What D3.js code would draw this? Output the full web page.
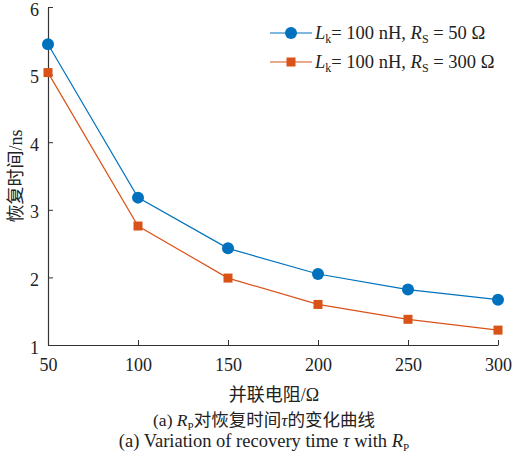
<!DOCTYPE html>
<html><head><meta charset="utf-8">
<script src="https://cdn.jsdelivr.net/npm/d3@7"></script>
<style>body{margin:0;background:#fff}</style>
</head><body><svg id="c" width="517" height="460"></svg>
<script>
const xValues = [50, 100, 150, 200, 250, 300];
const seriesRs50 = [5.45, 3.18, 2.43, 2.05, 1.82, 1.67];
const seriesRs300 = [5.03, 2.76, 1.99, 1.60, 1.38, 1.22];
const xTicks = [50, 100, 150, 200, 250, 300];
const yTicks = [1, 2, 3, 4, 5, 6];

const svg = d3.select("#c");
const serif = "'Liberation Serif','Times New Roman',serif";
const cjk = "'Liberation Serif','Noto Sans CJK SC',serif";
const x = d3.scaleLinear().domain([50, 300]).range([48, 498]);
const y = d3.scaleLinear().domain([1, 6]).range([345, 7]);
const axisColor = "#333";

const gx = svg.append("g").attr("transform", "translate(0,345)")
  .call(d3.axisBottom(x).tickValues(xTicks).tickFormat(d3.format("d")).tickSizeInner(-5).tickSizeOuter(0).tickPadding(13));
const gy = svg.append("g").attr("transform", "translate(48,0)")
  .call(d3.axisLeft(y).tickValues(yTicks).tickFormat(d3.format("d")).tickSizeInner(-5).tickSizeOuter(0).tickPadding(9));
[gx, gy].forEach(g => {
  g.attr("font-family", null).attr("font-size", null);
  g.select(".domain").attr("stroke", axisColor).attr("stroke-width", 1.2);
  g.selectAll(".tick line").attr("stroke", axisColor);
  g.selectAll("text").style("font-family", serif).style("font-size", "18px").attr("fill", "#222");
});
gx.selectAll("text").attr("dy", "0.71em");
gy.selectAll("text").attr("dy", "0.45em");

const series = [
  {vals: seriesRs50, color: "#0072BD", marker: "circle", rs: "50"},
  {vals: seriesRs300, color: "#D95319", marker: "square", rs: "300"}
];
const line = d3.line().x((d, i) => x(xValues[i])).y(d => y(d));
series.forEach(s => {
  svg.append("path").datum(s.vals).attr("d", line).attr("fill", "none")
    .attr("stroke", s.color).attr("stroke-width", 1.2);
  s.vals.forEach((v, i) => {
    if (s.marker === "circle") {
      svg.append("circle").attr("cx", x(xValues[i])).attr("cy", y(v)).attr("r", 6).attr("fill", s.color);
    } else {
      svg.append("rect").attr("x", x(xValues[i]) - 4.5).attr("y", y(v) - 4.5)
        .attr("width", 9).attr("height", 9).attr("fill", s.color);
    }
  });
});

// legend
series.forEach((s, k) => {
  const ly = 33 + k * 29;
  svg.append("line").attr("x1", 270).attr("x2", 312).attr("y1", ly).attr("y2", ly)
    .attr("stroke", s.color).attr("stroke-width", 1.2);
  if (s.marker === "circle") svg.append("circle").attr("cx", 291).attr("cy", ly).attr("r", 6).attr("fill", s.color);
  else svg.append("rect").attr("x", 286.5).attr("y", ly - 4.5).attr("width", 9).attr("height", 9).attr("fill", s.color);
  const t = svg.append("text").attr("x", 315).attr("y", ly + 6)
    .style("font-family", serif).style("font-size", "18.5px").attr("fill", "#222");
  t.append("tspan").attr("font-style", "italic").text("L");
  t.append("tspan").style("font-size", "12px").attr("dy", 4).text("k");
  t.append("tspan").attr("dy", -4).text("= 100 nH, ");
  t.append("tspan").attr("font-style", "italic").text("R");
  t.append("tspan").style("font-size", "12px").attr("dy", 4).text("S");
  t.append("tspan").attr("dy", -4).text(" = " + s.rs + " Ω");
});

// axis labels
svg.append("text").attr("transform", "translate(22,176) rotate(-90)").attr("text-anchor", "middle")
  .style("font-family", cjk).style("font-size", "18px").attr("fill", "#222").text("恢复时间/ns");
svg.append("text").attr("x", 274).attr("y", 401).attr("text-anchor", "middle")
  .style("font-family", cjk).style("font-size", "18px").attr("fill", "#222").text("并联电阻/Ω");

// captions
const c1 = svg.append("text").attr("x", 264).attr("y", 426).attr("text-anchor", "middle")
  .style("font-family", cjk).style("font-size", "17.5px").attr("fill", "#222");
c1.append("tspan").text("(a) ");
c1.append("tspan").attr("font-style", "italic").text("R");
c1.append("tspan").style("font-size", "11px").attr("dy", 4).text("P");
c1.append("tspan").attr("dy", -4).text("对恢复时间");
c1.append("tspan").attr("font-style", "italic").text("τ");
c1.append("tspan").text("的变化曲线");
const c2 = svg.append("text").attr("x", 264).attr("y", 447).attr("text-anchor", "middle")
  .style("font-family", serif).style("font-size", "18.5px").attr("fill", "#222");
c2.append("tspan").text("(a) Variation of recovery time ");
c2.append("tspan").attr("font-style", "italic").text("τ");
c2.append("tspan").text(" with ");
c2.append("tspan").attr("font-style", "italic").text("R");
c2.append("tspan").style("font-size", "11px").attr("dy", 4).text("P");
</script></body></html>
